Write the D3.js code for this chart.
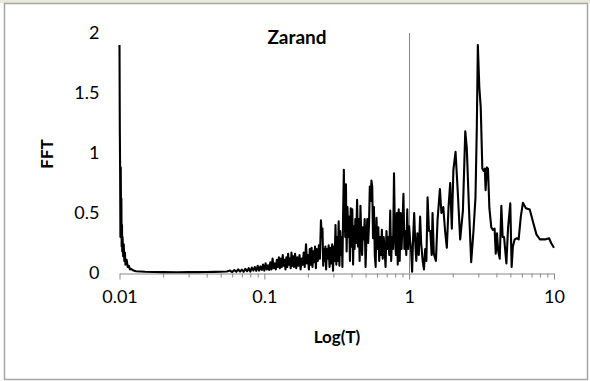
<!DOCTYPE html>
<html>
<head>
<meta charset="utf-8">
<script src="https://cdn.jsdelivr.net/npm/d3@7"></script>
<style>
  html, body { margin: 0; padding: 0; background: #ffffff; }
  svg { display: block; }
  text { font-family: Lato, "Open Sans", sans-serif; fill: #000; }
</style>
</head>
<body>
<svg id="chart" width="590" height="381"></svg>
<script>
// Spectrum of the Zarand record: FFT amplitude against period T (s)
const period = [
  0.0100, 0.01005, 0.0101, 0.01015, 0.0102, 0.01025, 0.0103, 0.01035, 0.0104, 0.01045,
  0.0105, 0.0106, 0.0107, 0.0108, 0.0109, 0.0110, 0.0112, 0.0114, 0.0116, 0.0118,
  0.0120, 0.0125, 0.0130, 0.014, 0.015, 0.017, 0.020, 0.025, 0.030, 0.035,
  0.040, 0.045, 0.050, 0.055, 0.058, 0.060, 0.062, 0.064, 0.066, 0.068,
  0.070, 0.072, 0.074, 0.076, 0.078, 0.080, 0.082, 0.084, 0.086, 0.088,
  0.090, 0.092, 0.094, 0.096, 0.098, 0.100, 0.102, 0.104, 0.106, 0.108,
  0.110, 0.112, 0.114, 0.116, 0.118, 0.120, 0.122, 0.124, 0.126, 0.128,
  0.130, 0.132, 0.134, 0.136, 0.138, 0.140, 0.142, 0.144, 0.146, 0.148,
  0.150, 0.152, 0.154, 0.156, 0.158, 0.160, 0.163, 0.166, 0.169, 0.172,
  0.175, 0.178, 0.181, 0.184, 0.187, 0.190, 0.194, 0.197, 0.200, 0.203,
  0.206, 0.209, 0.212, 0.215, 0.218, 0.221, 0.224, 0.227, 0.230, 0.234,
  0.238, 0.242, 0.246, 0.249, 0.252, 0.255, 0.258, 0.261, 0.264, 0.267,
  0.270, 0.274, 0.278, 0.282, 0.286, 0.290, 0.294, 0.298, 0.302, 0.306,
  0.310, 0.314, 0.318, 0.322, 0.326, 0.330, 0.334, 0.338, 0.342, 0.346,
  0.350, 0.354, 0.358, 0.362, 0.366, 0.370, 0.375, 0.380, 0.385, 0.390,
  0.395, 0.400, 0.405, 0.410, 0.415, 0.420, 0.425, 0.430, 0.437, 0.443,
  0.449, 0.455, 0.461, 0.467, 0.473, 0.479, 0.486, 0.493, 0.500, 0.507,
  0.514, 0.521, 0.528, 0.535, 0.542, 0.549, 0.556, 0.563, 0.571, 0.579,
  0.587, 0.595, 0.603, 0.612, 0.621, 0.630, 0.639, 0.648, 0.657, 0.667,
  0.677, 0.687, 0.697, 0.707, 0.718, 0.729, 0.740, 0.751, 0.762, 0.774,
  0.786, 0.798, 0.810, 0.822, 0.834, 0.847, 0.860, 0.873, 0.886, 0.899,
  0.913, 0.927, 0.941, 0.955, 0.970, 0.985, 1.000, 1.015, 1.030, 1.048,
  1.065, 1.083, 1.10, 1.12, 1.14, 1.165, 1.19, 1.21, 1.24, 1.265,
  1.29, 1.315, 1.34, 1.37, 1.40, 1.43, 1.45, 1.48, 1.53, 1.57,
  1.63, 1.67, 1.72, 1.77, 1.82, 1.87, 1.92, 1.97, 2.02, 2.09,
  2.16, 2.25, 2.35, 2.44, 2.50, 2.58, 2.68, 2.78, 2.87, 2.93,
  2.98, 3.05, 3.12, 3.20, 3.27, 3.33, 3.37, 3.44, 3.50, 3.58,
  3.69, 3.79, 3.89, 3.96, 4.04, 4.12, 4.22, 4.33, 4.42, 4.52,
  4.69, 4.82, 4.99, 5.10, 5.20, 5.35, 5.55, 5.70, 5.90, 6.10,
  6.40, 6.80, 7.18, 7.57, 8.00, 8.65, 9.25, 9.55, 10.0
];

const fft = [
  1.90, 1.20, 0.85, 0.30, 0.88, 0.45, 0.62, 0.22, 0.40, 0.18,
  0.30, 0.14, 0.24, 0.10, 0.17, 0.07, 0.11, 0.05, 0.06, 0.03,
  0.035, 0.020, 0.015, 0.012, 0.010, 0.008, 0.007, 0.006, 0.007, 0.007,
  0.008, 0.009, 0.010, 0.012, 0.020, 0.008, 0.025, 0.010, 0.030, 0.012,
  0.028, 0.010, 0.035, 0.015, 0.040, 0.012, 0.045, 0.020, 0.050, 0.018,
  0.060, 0.020, 0.055, 0.025, 0.070, 0.020, 0.080, 0.030, 0.065, 0.025,
  0.090, 0.030, 0.120, 0.040, 0.080, 0.030, 0.110, 0.050, 0.130, 0.040,
  0.120, 0.050, 0.150, 0.060, 0.110, 0.030, 0.130, 0.050, 0.160, 0.070,
  0.120, 0.040, 0.170, 0.060, 0.140, 0.050, 0.160, 0.040, 0.130, 0.060,
  0.150, 0.030, 0.120, 0.070, 0.170, 0.050, 0.240, 0.080, 0.150, 0.030,
  0.200, 0.070, 0.210, 0.050, 0.180, 0.090, 0.220, 0.040, 0.200, 0.100,
  0.230, 0.120, 0.440, 0.300, 0.370, 0.060, 0.200, 0.100, 0.220, 0.030,
  0.200, 0.120, 0.230, 0.050, 0.210, 0.080, 0.240, 0.020, 0.220, 0.100,
  0.400, 0.070, 0.300, 0.100, 0.430, 0.060, 0.350, 0.150, 0.300, 0.050,
  0.500, 0.860, 0.500, 0.300, 0.740, 0.180, 0.550, 0.300, 0.470, 0.100,
  0.540, 0.220, 0.530, 0.070, 0.390, 0.200, 0.450, 0.250, 0.610, 0.220,
  0.450, 0.100, 0.560, 0.300, 0.150, 0.380, 0.280, 0.450, 0.050, 0.300,
  0.450, 0.250, 0.400, 0.720, 0.600, 0.770, 0.720, 0.290, 0.550, 0.150,
  0.050, 0.460, 0.200, 0.380, 0.100, 0.300, 0.150, 0.360, 0.120, 0.300,
  0.200, 0.050, 0.350, 0.200, 0.300, 0.150, 0.520, 0.100, 0.300, 0.200,
  0.830, 0.300, 0.150, 0.500, 0.070, 0.530, 0.100, 0.500, 0.200, 0.410,
  0.660, 0.200, 0.350, 0.150, 0.530, 0.200, 0.390, 0.270, 0.200, 0.010,
  0.300, 0.500, 0.270, 0.100, 0.330, 0.150, 0.470, 0.250, 0.100, 0.030,
  0.200, 0.100, 0.630, 0.350, 0.350, 0.150, 0.500, 0.160, 0.100, 0.440,
  0.700, 0.500, 0.550, 0.350, 0.210, 0.550, 0.750, 0.370, 0.860, 1.010,
  0.700, 0.280, 0.520, 1.180, 1.040, 0.580, 0.090, 0.350, 0.630, 1.200,
  1.900, 1.550, 1.380, 0.870, 0.850, 0.870, 0.690, 0.880, 0.870, 0.540,
  0.380, 0.360, 0.370, 0.160, 0.330, 0.180, 0.120, 0.560, 0.300, 0.300,
  0.080, 0.380, 0.580, 0.050, 0.220, 0.280, 0.290, 0.280, 0.470, 0.585,
  0.540, 0.530, 0.420, 0.320, 0.280, 0.280, 0.290, 0.250, 0.210
];

const yTicks = [0, 0.5, 1, 1.5, 2];
const xMajor = [0.01, 0.1, 1, 10];
const chartTitle = "Zarand";
const xTitle = "Log(T)";
const yTitle = "FFT";

const series = period.map((t, i) => ({ t, v: fft[i] }));

const W = 590, H = 381;
const plot = { left: 119.5, right: 554, top: 33, bottom: 273 };

const svg = d3.select("#chart");

// window strip and chart frame
svg.append("rect").attr("x", 0).attr("y", 0).attr("width", W).attr("height", 3)
  .attr("fill", "#ece9d8");
svg.append("rect").attr("x", 4.5).attr("y", 3.5).attr("width", 583).attr("height", 376)
  .attr("fill", "#ffffff").attr("stroke", "#a6a6a6").attr("stroke-width", 1.5);

const x = d3.scaleLog().domain([0.01, 10]).range([plot.left, plot.right]);
const y = d3.scaleLinear().domain([0, 2]).range([plot.bottom, plot.top]);

// minor ticks at 2..9 within every decade
const xMinor = [];
for (let d = 0; d < 3; d++) {
  for (let k = 2; k <= 9; k++) xMinor.push(+(k * Math.pow(10, d - 2)).toPrecision(3));
}

// value axis crosses the category axis at T = 1
svg.append("line")
  .attr("x1", Math.round(x(1)) + 0.5).attr("x2", Math.round(x(1)) + 0.5)
  .attr("y1", y(2)).attr("y2", y(0))
  .attr("stroke", "#888888").attr("stroke-width", 1);

// x axis: minor ticks without labels
const gMinor = svg.append("g")
  .attr("transform", `translate(0,${plot.bottom + 0.5})`)
  .call(d3.axisBottom(x).tickValues(xMinor).tickSize(4).tickFormat(""));
gMinor.select(".domain").remove();
gMinor.selectAll(".tick line").attr("stroke", "#888888");

// x axis: decades with labels
const gx = svg.append("g")
  .attr("transform", `translate(0,${plot.bottom + 0.5})`)
  .call(d3.axisBottom(x).tickValues(xMajor).tickSize(6).tickPadding(11)
    .tickFormat(d3.format("~g")).tickSizeOuter(0));
gx.select(".domain").attr("stroke", "#888888");
gx.selectAll(".tick line").attr("stroke", "#888888");
gx.selectAll(".tick text").attr("font-size", 18).attr("font-family", "Lato, sans-serif");

// y axis labels on the low side
const gy = svg.append("g")
  .attr("transform", `translate(${plot.left},0)`)
  .call(d3.axisLeft(y).tickValues(yTicks).tickSize(0).tickPadding(20)
    .tickFormat(d3.format("~g")));
gy.select(".domain").remove();
gy.selectAll(".tick text").attr("font-size", 18).attr("font-family", "Lato, sans-serif");

// spectrum line
const line = d3.line().x(d => x(d.t)).y(d => y(d.v));
svg.append("path")
  .datum(series)
  .attr("d", line)
  .attr("fill", "none")
  .attr("stroke", "#000000")
  .attr("stroke-width", 2.1)
  .attr("stroke-linejoin", "round");

// titles
svg.append("text").attr("x", 297).attr("y", 44)
  .attr("text-anchor", "middle").attr("font-size", 19).attr("font-weight", "bold")
  .text(chartTitle);
svg.append("text").attr("x", 337).attr("y", 343)
  .attr("text-anchor", "middle").attr("font-size", 17).attr("font-weight", "bold")
  .text(xTitle);
svg.append("text")
  .attr("transform", "translate(53,154) rotate(-90)")
  .attr("text-anchor", "middle").attr("font-size", 17).attr("font-weight", "bold")
  .text(yTitle);
</script>
</body>
</html>
